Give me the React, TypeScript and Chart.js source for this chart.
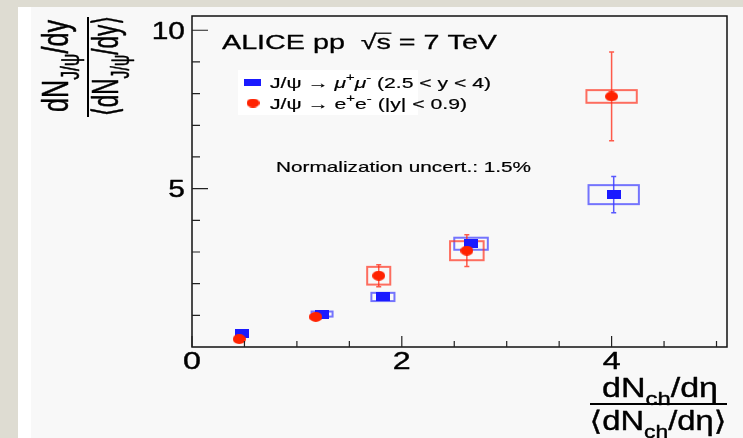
import { useEffect, useRef } from "react";
import { Chart, registerables } from "chart.js";

Chart.register(...registerables);

// J/psi -> mu+mu- (2.5 < y < 4)
const muMult = [0.48, 1.24, 1.82, 2.66, 4.02];
const muYield = [0.44, 1.04, 1.58, 3.26, 4.81];
const muStat = [0.03, 0.05, 0.06, 0.12, 0.57];
const muSysX = [0.04, 0.1, 0.11, 0.16, 0.24];
const muSysY = [0.03, 0.08, 0.13, 0.19, 0.3];

// J/psi -> e+e- (|y| < 0.9)
const eeMult = [0.45, 1.18, 1.78, 2.62, 4.0];
const eeYield = [0.25, 0.95, 2.25, 3.04, 7.91];
const eeStat = [0.04, 0.08, 0.35, 0.5, 1.4];
const eeSysX = [0.04, 0.05, 0.11, 0.16, 0.24];
const eeSysY = [0.03, 0.05, 0.28, 0.3, 0.2];

// axis ticks
const xMajor = [0, 2, 4];
const xMinor = [0.5, 1, 1.5, 2.5, 3, 3.5, 4.5, 5];
const yMajor = [5, 10];
const yMinor = [1, 2, 3, 4, 6, 7, 8, 9];

const BLUE = "#1a1aff";
const RED = "#ff2200";
const FONT = '"Liberation Sans", "DejaVu Sans", Arial, sans-serif';

type Run = { t: string; k?: "sub" | "sup"; over?: boolean; it?: boolean };

function runFont(r: Run, size: number) {
  const s = r.k ? size * 0.7 : size;
  return `${r.it ? "italic " : ""}${s}px ${FONT}`;
}

function runsWidth(ctx: CanvasRenderingContext2D, runs: Run[], size: number) {
  let w = 0;
  for (const r of runs) {
    ctx.font = runFont(r, size);
    w += ctx.measureText(r.t).width;
  }
  return w;
}

function drawRuns(
  ctx: CanvasRenderingContext2D,
  runs: Run[],
  x: number,
  y: number,
  size: number,
  o: { align?: "left" | "center" | "right"; fit?: number; sx?: number; sy?: number; rot?: number; color?: string; bold?: number } = {}
) {
  const w = runsWidth(ctx, runs, size);
  const sx = o.fit ? o.fit / w : o.sx ?? 1;
  const sy = o.sy ?? 1;
  ctx.save();
  ctx.translate(x, y);
  if (o.rot) ctx.rotate(o.rot);
  ctx.scale(sx, sy);
  ctx.fillStyle = o.color ?? "#000";
  ctx.strokeStyle = o.color ?? "#000";
  ctx.lineWidth = o.bold ?? 0.2;
  ctx.lineJoin = "round";
  ctx.textAlign = "left";
  ctx.textBaseline = "alphabetic";
  let cx = o.align === "center" ? -w / 2 : o.align === "right" ? -w : 0;
  for (const r of runs) {
    ctx.font = runFont(r, size);
    const dy = r.k === "sub" ? size * 0.3 : r.k === "sup" ? -size * 0.42 : 0;
    ctx.fillText(r.t, cx, dy);
    if (ctx.lineWidth > 0.05) ctx.strokeText(r.t, cx, dy);
    const rw = ctx.measureText(r.t).width;
    if (r.over) ctx.fillRect(cx - size * 0.04, -size * 0.8, rw + size * 0.06, size * 0.06);
    cx += rw;
  }
  ctx.restore();
}

function rectMarker(w: number, h: number, color: string) {
  const c = document.createElement("canvas");
  c.width = w;
  c.height = h;
  const g = c.getContext("2d")!;
  g.fillStyle = color;
  g.fillRect(0, 0, w, h);
  return c;
}

function ellipseMarker(w: number, h: number, color: string) {
  const c = document.createElement("canvas");
  c.width = w;
  c.height = h;
  const g = c.getContext("2d")!;
  g.fillStyle = color;
  g.beginPath();
  g.ellipse(w / 2, h / 2, w / 2, h / 2, 0, 0, Math.PI * 2);
  g.fill();
  return c;
}

const rootStyle = {
  id: "rootStyle",
  beforeDraw(chart: any) {
    const { ctx, width, height } = chart;
    ctx.save();
    ctx.fillStyle = "#dedcd2";
    ctx.fillRect(0, 0, width, height);
    ctx.fillStyle = "#ffffff";
    ctx.fillRect(18, 7, width - 18, height - 7);
    ctx.fillStyle = "#f8f8f8";
    ctx.fillRect(31, 7, width - 31, height - 7);
    ctx.restore();
  },
  beforeDatasetsDraw(chart: any) {
    const { ctx } = chart;
    const sx = chart.scales.x;
    const sy = chart.scales.y;
    const series = (
      xs: number[], ys: number[], stat: number[], bx: number[], by: number[],
      boxColor: string, barColor: string
    ) => {
      for (let i = 0; i < xs.length; i++) {
        const px = sx.getPixelForValue(xs[i]);
        const l = sx.getPixelForValue(xs[i] - bx[i]);
        const r = sx.getPixelForValue(xs[i] + bx[i]);
        const t = sy.getPixelForValue(ys[i] + by[i]);
        const b = sy.getPixelForValue(ys[i] - by[i]);
        ctx.strokeStyle = boxColor;
        ctx.lineWidth = 2;
        ctx.strokeRect(l, t, r - l, b - t);
        const t2 = sy.getPixelForValue(ys[i] + stat[i]);
        const b2 = sy.getPixelForValue(ys[i] - stat[i]);
        ctx.strokeStyle = barColor;
        ctx.lineWidth = 1.5;
        ctx.beginPath();
        ctx.moveTo(px, t2);
        ctx.lineTo(px, b2);
        ctx.moveTo(px - 2.5, t2);
        ctx.lineTo(px + 2.5, t2);
        ctx.moveTo(px - 2.5, b2);
        ctx.lineTo(px + 2.5, b2);
        ctx.stroke();
      }
    };
    ctx.save();
    series(muMult, muYield, muStat, muSysX, muSysY, "rgba(60,60,255,0.7)", "rgba(60,60,255,0.85)");
    series(eeMult, eeYield, eeStat, eeSysX, eeSysY, "rgba(255,50,30,0.7)", "rgba(255,50,30,0.8)");
    ctx.restore();
  },
  afterDatasetsDraw(chart: any) {
    const { ctx, chartArea: a } = chart;
    const sx = chart.scales.x;
    const sy = chart.scales.y;
    ctx.save();

    // frame
    ctx.strokeStyle = "#111";
    ctx.lineWidth = 1.5;
    ctx.strokeRect(a.left, a.top, a.right - a.left, a.bottom - a.top);

    // inward ticks
    ctx.strokeStyle = "#222";
    ctx.lineWidth = 1.2;
    ctx.beginPath();
    for (const v of xMajor) {
      const p = sx.getPixelForValue(v);
      ctx.moveTo(p, a.bottom);
      ctx.lineTo(p, a.bottom - 11);
    }
    for (const v of xMinor) {
      const p = sx.getPixelForValue(v);
      ctx.moveTo(p, a.bottom);
      ctx.lineTo(p, a.bottom - 6);
    }
    for (const v of yMajor) {
      const p = sy.getPixelForValue(v);
      ctx.moveTo(a.left, p);
      ctx.lineTo(a.left + 16, p);
    }
    for (const v of yMinor) {
      const p = sy.getPixelForValue(v);
      ctx.moveTo(a.left, p);
      ctx.lineTo(a.left + 8, p);
    }
    ctx.stroke();

    // tick labels
    for (const v of xMajor) {
      drawRuns(ctx, [{ t: String(v) }], sx.getPixelForValue(v), a.bottom + 22, 23, { align: "center", sx: 1.4, bold: 0.4 });
    }
    for (const v of yMajor) {
      drawRuns(ctx, [{ t: String(v) }], a.left - 7, sy.getPixelForValue(v) + 8.5, 23, { align: "right", sx: 1.3, bold: 0.4 });
    }

    // y title: fraction, rotated
    const rot = -Math.PI / 2;
    drawRuns(ctx, [{ t: "dN" }, { t: "J/ψ", k: "sub" }, { t: "/dy" }], 68, 66, 28, { align: "center", fit: 92, sy: 1.3, rot, bold: 0.4 });
    drawRuns(ctx, [{ t: "⟨dN" }, { t: "J/ψ", k: "sub" }, { t: "/dy⟩" }], 118, 66, 28, { align: "center", fit: 100, sy: 1.3, rot, bold: 0.4 });
    ctx.fillStyle = "#000";
    ctx.fillRect(87, 17, 2, 100);

    // x title: fraction
    drawRuns(ctx, [{ t: "dN" }, { t: "ch", k: "sub" }, { t: "/dη" }], 660, 397, 27, { align: "center", fit: 116, bold: 0.4 });
    ctx.fillStyle = "#000";
    ctx.fillRect(590, 403, 137, 2);
    drawRuns(ctx, [{ t: "⟨dN" }, { t: "ch", k: "sub" }, { t: "/dη⟩" }], 658, 430, 27, { align: "center", fit: 137, bold: 0.4 });

    // header
    drawRuns(ctx, [{ t: "ALICE pp  " }, { t: "√" }, { t: "s", over: true }, { t: " = 7 TeV" }], 222, 49, 20.5, { fit: 275, bold: 0.3 });

    // legend
    ctx.fillStyle = "#ffffff";
    ctx.fillRect(238, 70, 180, 45);
    const mk1 = rectMarker(17, 7, BLUE);
    ctx.drawImage(mk1, 252 - 8.5, 82 - 3.5);
    const mk2 = ellipseMarker(13, 9, RED);
    ctx.drawImage(mk2, 253 - 6.5, 103 - 4.5);
    drawRuns(ctx, [
      { t: "J/ψ → " }, { t: "μ", it: true }, { t: "+", k: "sup" }, { t: "μ", it: true }, { t: "-", k: "sup" },
      { t: " (2.5 < y < 4)" },
    ], 270, 87.5, 15, { fit: 221 });
    drawRuns(ctx, [
      { t: "J/ψ → e" }, { t: "+", k: "sup" }, { t: "e" }, { t: "-", k: "sup" }, { t: " (|y| < 0.9)" },
    ], 270, 108.5, 15, { fit: 197 });

    drawRuns(ctx, [{ t: "Normalization uncert.: 1.5%" }], 276, 172, 15, { fit: 255 });
    ctx.restore();
  },
};

export default function App() {
  const ref = useRef<HTMLCanvasElement>(null);

  useEffect(() => {
    const canvas = ref.current!;
    const chart = new Chart(canvas, {
      type: "scatter",
      data: {
        datasets: [
          {
            label: "J/ψ → e+e- (|y| < 0.9)",
            data: eeMult.map((x, i) => ({ x, y: eeYield[i] })),
            pointStyle: ellipseMarker(13, 10, RED) as any,
            pointRadius: 6,
            backgroundColor: RED,
            borderColor: RED,
          },
          {
            label: "J/ψ → μ+μ- (2.5 < y < 4)",
            data: muMult.map((x, i) => ({ x, y: muYield[i] })),
            pointStyle: rectMarker(14, 9, BLUE) as any,
            pointRadius: 6,
            backgroundColor: BLUE,
            borderColor: BLUE,
          },
        ],
      },
      options: {
        responsive: false,
        animation: false,
        devicePixelRatio: 1,
        layout: { padding: { left: 192, top: 16, right: 16, bottom: 91 } },
        scales: {
          x: { type: "linear", min: 0, max: 5.1, display: false },
          y: { type: "linear", min: 0, max: 10.45, display: false },
        },
        plugins: {
          legend: { display: false },
          tooltip: { enabled: false },
        },
      },
      plugins: [rootStyle],
    });
    return () => chart.destroy();
  }, []);

  return (
    <div style={{ position: "absolute", left: 0, top: 0, width: 743, height: 438 }}>
      <canvas ref={ref} width={743} height={438} style={{ display: "block", width: 743, height: 438 }} />
    </div>
  );
}
